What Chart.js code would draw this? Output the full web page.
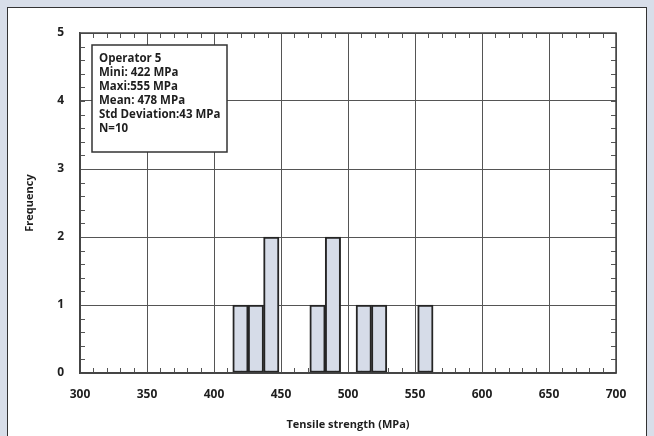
<!DOCTYPE html>
<html>
<head>
<meta charset="utf-8">
<script src="https://cdn.jsdelivr.net/npm/chart.js@4.4.1/dist/chart.umd.min.js"></script>
<style>
  html, body { margin: 0; padding: 0; }
  body { width: 654px; height: 436px; overflow: hidden; background: #d8dee9; position: relative; }
  #panel { position: absolute; left: 7px; top: 7px; width: 638px; height: 440px; background: #fff; border: 1.5px solid #333; }
  #wrap { position: absolute; left: 0; top: 0; width: 654px; height: 436px; }
</style>
</head>
<body>
<div id="panel"></div>
<div id="wrap"><canvas id="hist"></canvas></div>
<script>
// histogram bins (MPa, bin centre) and counts
var binCenters = [419.75, 431.25, 442.75, 477.25, 488.75, 511.75, 523.25, 557.75];
var frequencies = [1, 1, 2, 1, 2, 1, 1, 1];
var statLines = ['Operator 5', 'Mini: 422 MPa', 'Maxi:555 MPa', 'Mean: 478 MPa', 'Std Deviation:43 MPa', 'N=10'];
var xRange = [300, 700];
var yRange = [0, 5];
var xMinorStep = 10;
var yMinorStep = 0.2;

Chart.defaults.font.family = "'Open Sans', sans-serif";
Chart.defaults.font.weight = 'bold';
Chart.defaults.color = '#1e1e1e';

// inward minor ticks + frame
var minorTicks = {
    id: 'minorTicks',
    beforeDatasetsDraw: function(chart) {
        let ctx = chart.ctx;
        let a = chart.chartArea;
        let x = chart.scales.x, y = chart.scales.y;
        ctx.save();
        ctx.strokeStyle = '#555';
        ctx.lineWidth = 1;
        ctx.beginPath();
        let nx = Math.round((xRange[1] - xRange[0]) / xMinorStep);
        for (let i = 0; i <= nx; i++) {
            let px = Math.round(x.getPixelForValue(xRange[0] + i * xMinorStep)) + 0.5;
            ctx.moveTo(px, a.bottom); ctx.lineTo(px, a.bottom - 5);
            ctx.moveTo(px, a.top); ctx.lineTo(px, a.top + 5);
        }
        let ny = Math.round((yRange[1] - yRange[0]) / yMinorStep);
        for (let i = 0; i <= ny; i++) {
            let py = Math.round(y.getPixelForValue(yRange[0] + i * yMinorStep)) + 0.5;
            ctx.moveTo(a.left, py); ctx.lineTo(a.left + 5, py);
            ctx.moveTo(a.right, py); ctx.lineTo(a.right - 5, py);
        }
        ctx.stroke();
        ctx.restore();
    },
    afterDatasetsDraw: function(chart) {
        let ctx = chart.ctx;
        let a = chart.chartArea;
        ctx.save();
        ctx.strokeStyle = '#444';
        ctx.lineWidth = 1.5;
        ctx.strokeRect(a.left, a.top, a.width, a.height);
        ctx.restore();
    }
};

// stats box in the upper left
var statsBox = {
    id: 'statsBox',
    afterDraw: function(chart) {
        let ctx = chart.ctx;
        let a = chart.chartArea;
        let bx = a.left + 12, by = a.top + 12;
        ctx.save();
        ctx.fillStyle = '#fff';
        ctx.fillRect(bx, by, 135, 107);
        ctx.strokeStyle = '#333';
        ctx.lineWidth = 1.5;
        ctx.strokeRect(bx, by, 135, 107);
        ctx.fillStyle = '#1e1e1e';
        ctx.font = "bold 11.5px 'Open Sans', sans-serif";
        ctx.textBaseline = 'middle';
        for (let i = 0; i < statLines.length; i++) {
            ctx.fillText(statLines[i], bx + 7, by + 14 + i * 14);
        }
        ctx.restore();
    }
};

var points = [];
for (let i = 0; i < binCenters.length; i++) {
    points.push({x: binCenters[i], y: frequencies[i]});
}

var ctx = document.getElementById('hist').getContext('2d');
var chart = new Chart(ctx, {
    type: 'bar',
    data: {
        datasets: [{
            data: points,
            backgroundColor: '#d6dce8',
            borderColor: '#252525',
            borderWidth: 2,
            borderSkipped: false,
            barPercentage: 1,
            categoryPercentage: 1
        }]
    },
    options: {
        responsive: true,
        maintainAspectRatio: false,
        animation: false,
        layout: { padding: { left: 0, top: 33, right: 38, bottom: 0 } },
        plugins: { legend: { display: false }, tooltip: { enabled: false } },
        scales: {
            x: {
                type: 'linear',
                offset: false,
                min: xRange[0], max: xRange[1],
                ticks: { stepSize: 50, padding: 14, font: { size: 12 } },
                grid: { color: '#555', lineWidth: 1, drawTicks: false, offset: false },
                border: { color: '#444', width: 1.5 },
                title: { display: true, text: 'Tensile strength (MPa)', font: { size: 11 }, padding: { top: 0, bottom: 5 } },
                afterFit: function(s) { s.height = 63; }
            },
            y: {
                min: yRange[0], max: yRange[1],
                ticks: { stepSize: 1, padding: 16, font: { size: 12 } },
                grid: { color: '#555', lineWidth: 1, drawTicks: false },
                border: { color: '#444', width: 1.5 },
                title: { display: true, text: 'Frequency', font: { size: 11 }, padding: { top: 23, bottom: 0 } },
                afterFit: function(s) { s.width = 80; }
            }
        }
    },
    plugins: [minorTicks, statsBox]
});
</script>
</body>
</html>
